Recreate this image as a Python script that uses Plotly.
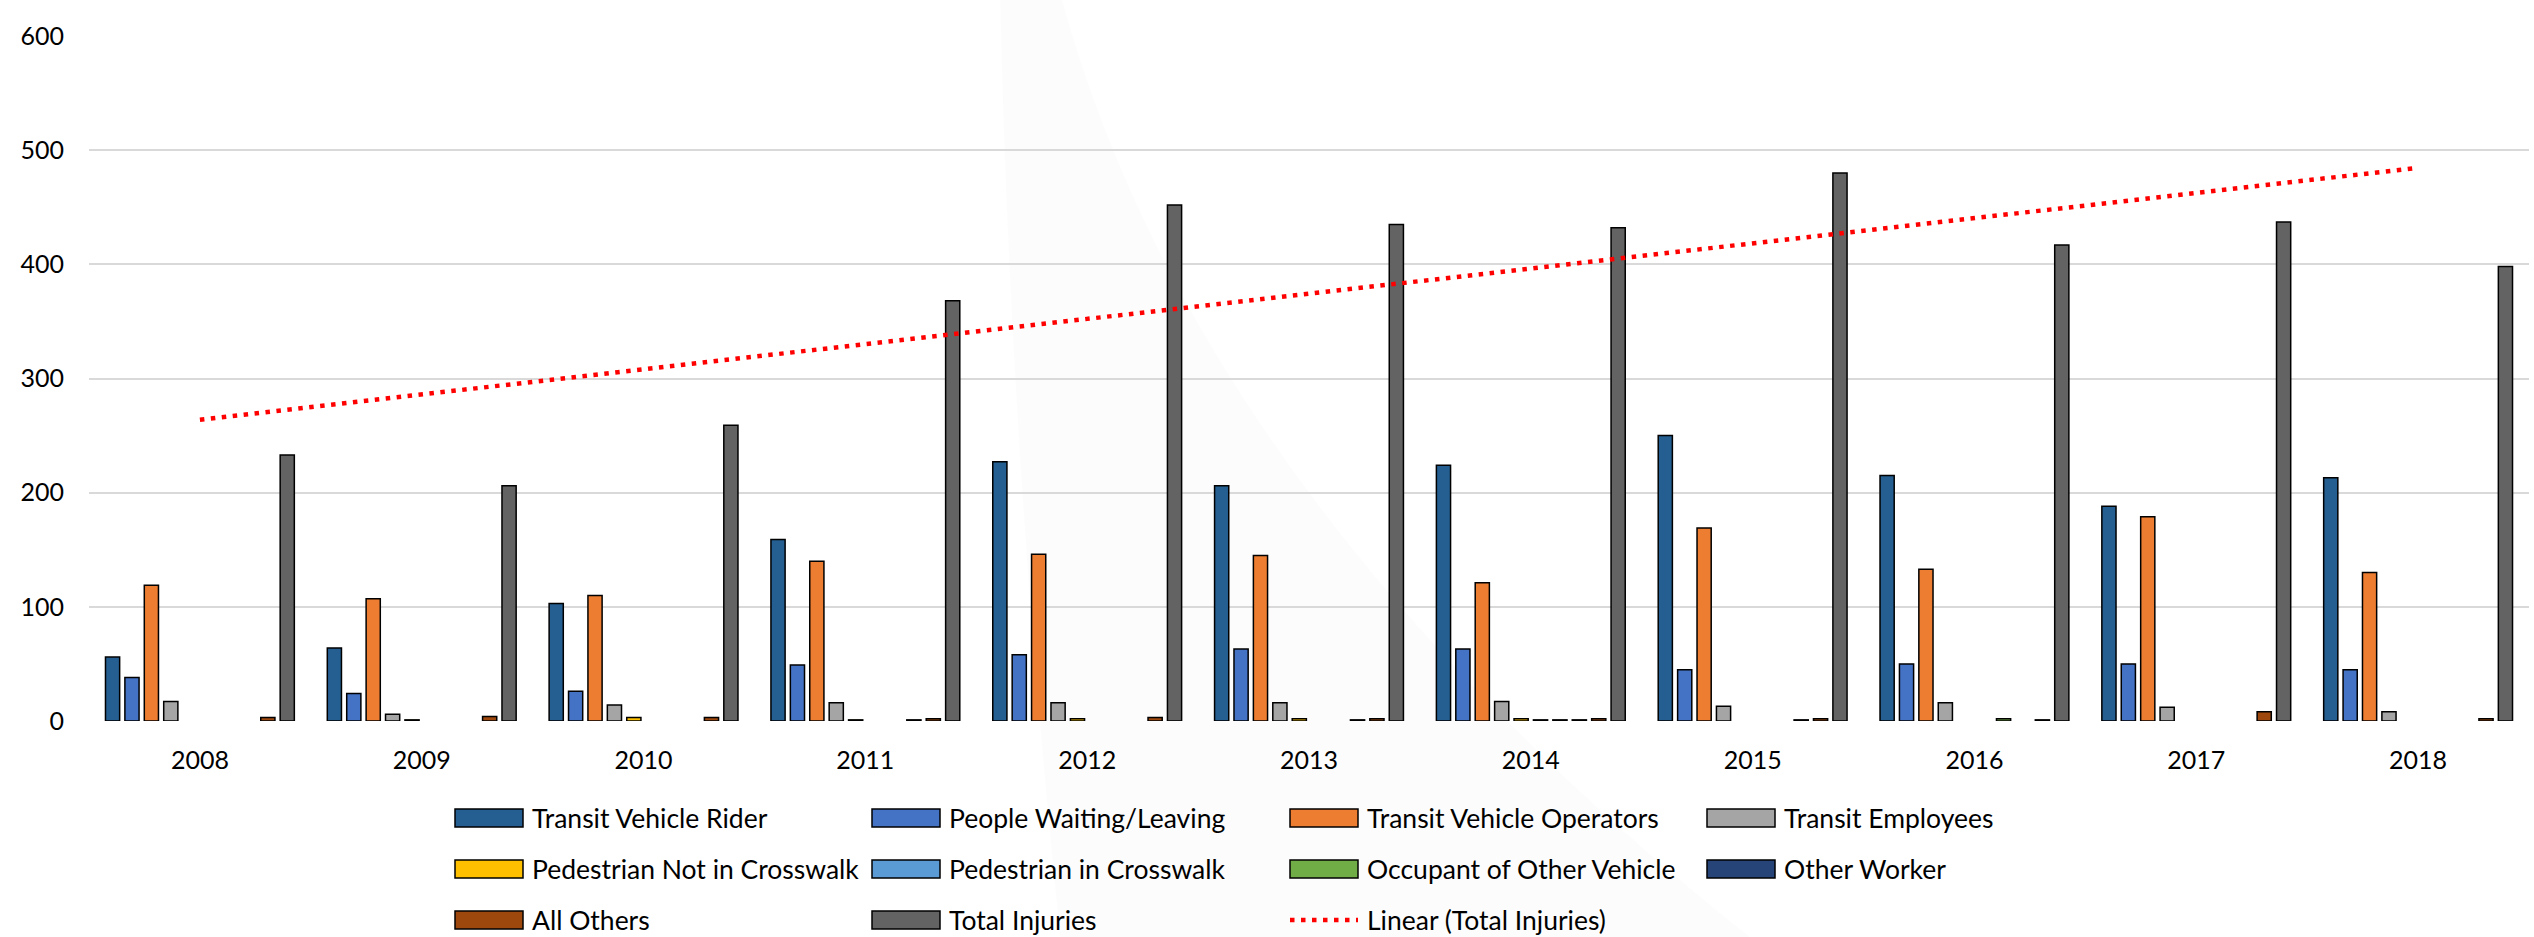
import numpy as np
import plotly.graph_objects as go

# ---------------- data ----------------
years = ['2008', '2009', '2010', '2011', '2012', '2013', '2014', '2015', '2016', '2017', '2018']
transit_vehicle_rider = [56, 64, 103, 159, 227, 206, 224, 250, 215, 188, 213]
people_waiting_leaving = [38, 24, 26, 49, 58, 63, 63, 45, 50, 50, 45]
transit_vehicle_operators = [119, 107, 110, 140, 146, 145, 121, 169, 133, 179, 130]
transit_employees = [17, 6, 14, 16, 16, 16, 17, 13, 16, 12, 8]
pedestrian_not_in_crosswalk = [0, 1, 3, 1, 2, 2, 2, 0, 0, 0, 0]
pedestrian_in_crosswalk = [0, 0, 0, 0, 0, 0, 1, 0, 0, 0, 0]
occupant_other_vehicle = [0, 0, 0, 0, 0, 0, 1, 0, 2, 0, 0]
other_worker = [0, 0, 0, 1, 0, 1, 1, 1, 0, 0, 0]
all_others = [3, 4, 3, 2, 3, 2, 2, 2, 1, 8, 2]
total_injuries = [233, 206, 259, 368, 452, 435, 432, 480, 417, 437, 398]

series_names = ['Transit Vehicle Rider', 'People Waiting/Leaving', 'Transit Vehicle Operators',
                'Transit Employees', 'Pedestrian Not in Crosswalk', 'Pedestrian in Crosswalk',
                'Occupant of Other Vehicle', 'Other Worker', 'All Others', 'Total Injuries']
series_values = [transit_vehicle_rider, people_waiting_leaving, transit_vehicle_operators,
                 transit_employees, pedestrian_not_in_crosswalk, pedestrian_in_crosswalk,
                 occupant_other_vehicle, other_worker, all_others, total_injuries]
series_colors = ['#255E91', '#4472C4', '#ED7D31', '#A5A5A5', '#FFC000', '#5B9BD5',
                 '#70AD47', '#264478', '#9E480E', '#636363']
trend_name = 'Linear (Total Injuries)'

# ---------------- layout geometry ----------------
W, H = 2534, 937
ML, MR, MT, MB = 89, 5, 36, 216
PW, PH = W - ML - MR, H - MT - MB
FONT = 'Lato'


def px(x):
    return (x - ML) / PW


def py(y):
    return (H - MB - y) / PH


fig = go.Figure()

for name, vals, col in zip(series_names, series_values, series_colors):
    # empty (zero) cells are not drawn, as in the original spreadsheet chart
    fig.add_trace(go.Bar(
        x=years, y=[v if v else None for v in vals], name=name,
        marker=dict(color=col, line=dict(color='#000000', width=1.5)),
        showlegend=False,
    ))

# linear trendline of total injuries (least squares, as Excel does)
xi = np.arange(1, len(years) + 1)
slope, intercept = np.polyfit(xi, np.array(total_injuries, dtype=float), 1)
trend = slope * xi + intercept
fig.add_trace(go.Scatter(
    x=years, y=trend, mode='lines', name=trend_name,
    line=dict(color='#FF0000', width=4.5, dash='4.5px,6.5px'),
    showlegend=False,
))

shapes = []
annotations = []

# faint background watermark swoosh
path = 'M {:.4f},{:.4f} L {:.4f},{:.4f} Q {:.4f},{:.4f} {:.4f},{:.4f} L {:.4f},{:.4f} Q {:.4f},{:.4f} {:.4f},{:.4f} Z'.format(
    px(1000), py(0), px(1062), py(0), px(1200), py(500), px(1750), py(937),
    px(1060), py(937), px(1010), py(450), px(1000), py(0))
shapes.append(dict(type='path', xref='paper', yref='paper', path=path,
                   fillcolor='rgba(0,0,0,0.012)', line=dict(width=0), layer='below'))

# custom legend (3 rows x 4 columns)
col_x = [455, 872, 1290, 1707]
row_y = [818, 869, 920]
sw_w, sw_h = 68, 18
legend_items = list(zip(series_names, series_colors)) + [(trend_name, None)]
for i, (name, col) in enumerate(legend_items):
    r, c = divmod(i, 4)
    x0 = col_x[c]
    yc = row_y[r]
    if col is not None:
        shapes.append(dict(type='rect', xref='paper', yref='paper',
                           x0=px(x0), x1=px(x0 + sw_w), y0=py(yc + sw_h / 2), y1=py(yc - sw_h / 2),
                           fillcolor=col, line=dict(color='#000000', width=1.5)))
    else:
        shapes.append(dict(type='line', xref='paper', yref='paper',
                           x0=px(x0), x1=px(x0 + sw_w), y0=py(yc), y1=py(yc),
                           line=dict(color='#FF0000', width=4.5, dash='4.5px,6.5px')))
    annotations.append(dict(xref='paper', yref='paper', x=px(x0 + sw_w + 7), y=py(yc),
                            xanchor='left', yanchor='middle', showarrow=False, text=name,
                            font=dict(family=FONT, size=26.5, color='#000000')))

fig.update_layout(
    width=W, height=H,
    margin=dict(l=ML, r=MR, t=MT, b=MB),
    paper_bgcolor='#FFFFFF', plot_bgcolor='rgba(0,0,0,0)',
    barmode='group', bargap=0.125, bargroupgap=0.27,
    font=dict(family=FONT, size=25, color='#000000'),
    shapes=shapes, annotations=annotations,
    showlegend=False,
)
fig.update_xaxes(type='category', showgrid=False, zeroline=False, showline=False,
                 ticks='', ticklabelstandoff=22,
                 tickfont=dict(family=FONT, size=25, color='#000000'))
fig.update_yaxes(range=[0, 600], dtick=100, showgrid=True, gridcolor='#D9D9D9', gridwidth=1.7,
                 zeroline=False, showline=False, ticks='', ticklabelstandoff=24,
                 tickfont=dict(family=FONT, size=25, color='#000000'))

fig.write_html('out.html')
